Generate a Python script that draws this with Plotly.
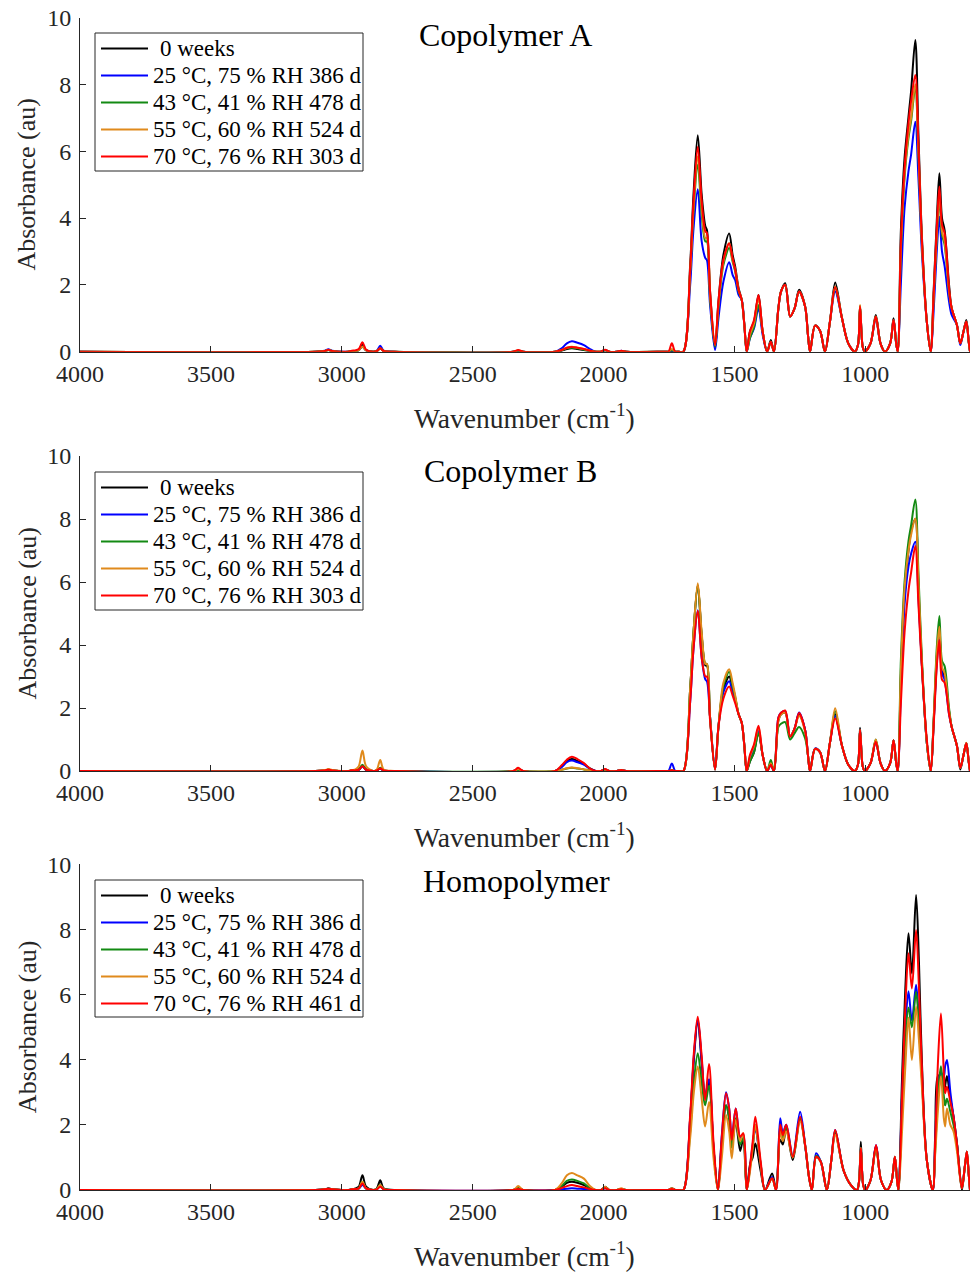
import plotly.graph_objects as go

# ---------------- wavenumber grids ----------------
WN_LOW = [4000, 3100, 3065, 3051, 3037, 2975, 2962, 2948, 2935, 2921, 2907, 2880, 2866, 2853, 2840, 2800,
          2345, 2326, 2307, 2185, 2160, 2140, 2121, 2100, 2075, 2052, 2030, 2010, 1994, 1978, 1950, 1932,
          1914, 1765, 1752, 1739, 1726, 1712]
WN_FP_COP = [1695, 1669, 1657, 1640, 1625, 1611, 1605, 1593, 1574, 1561, 1542, 1520, 1507, 1497, 1484, 1472,
             1462, 1453, 1441, 1425, 1408, 1392, 1375, 1361, 1349, 1332, 1322, 1306, 1287, 1270, 1253, 1230,
             1219, 1211, 1192, 1173, 1154, 1135, 1115, 1089, 1065, 1040, 1028, 1020, 1010, 1002, 980, 960,
             942, 925, 905, 892, 882, 876, 864, 850, 835, 825, 809, 797, 784, 765, 750, 739, 727, 717, 707,
             697, 680, 670, 650, 637, 625, 614, 605, 600]
WN_FP_HOM = [1695, 1669, 1655, 1640, 1625, 1612, 1597, 1580, 1563, 1548, 1532, 1520, 1510, 1495, 1478, 1466,
             1453, 1440, 1430, 1420, 1400, 1383, 1356, 1341, 1325, 1315, 1302, 1277, 1249, 1229, 1215, 1204,
             1188, 1170, 1147, 1130, 1115, 1083, 1055, 1032, 1024, 1017, 1008, 1000, 980, 959, 940, 918, 900,
             887, 878, 873, 860, 847, 835, 822, 806, 795, 784, 765, 742, 733, 722, 711, 700, 695, 688, 675,
             663, 650, 631, 620, 612, 605, 600]

# ---------------- Copolymer A ----------------
A_0W_LOW = [0, 0, 0.02, 0.05, 0.02, 0, 0.02, 0.02, 0.05, 0.22, 0.05, 0, 0.02, 0.1, 0.02, 0, 0, 0.03, 0, 0, 0.03, 0.08, 0.1, 0.08, 0.05, 0.02, 0, 0, 0.04, 0, 0, 0.02, 0, 0, 0, 0.02, 0, 0]
A_25_LOW = [0, 0, 0.03, 0.07, 0.03, 0, 0.02, 0.02, 0.05, 0.15, 0.04, 0, 0.03, 0.18, 0.03, 0, 0, 0.03, 0, 0, 0.1, 0.25, 0.31, 0.27, 0.2, 0.08, 0, 0, 0.05, 0, 0, 0.03, 0, 0, 0, 0.04, 0, 0]
A_43_LOW = [0, 0, 0.02, 0.05, 0.02, 0, 0.02, 0.02, 0.05, 0.15, 0.04, 0, 0.02, 0.1, 0.02, 0, 0, 0.03, 0, 0, 0.05, 0.1, 0.12, 0.1, 0.06, 0.03, 0, 0, 0.04, 0, 0, 0.02, 0, 0, 0, 0.05, 0, 0]
A_55_LOW = [0, 0, 0.02, 0.05, 0.02, 0, 0.02, 0.02, 0.05, 0.15, 0.04, 0, 0.02, 0.1, 0.02, 0, 0, 0.04, 0, 0, 0.05, 0.12, 0.15, 0.12, 0.08, 0.03, 0, 0, 0.05, 0, 0, 0.02, 0, 0, 0, 0.08, 0, 0]
A_70_LOW = [0, 0, 0.02, 0.06, 0.02, 0, 0.03, 0.04, 0.08, 0.28, 0.06, 0, 0.02, 0.1, 0.02, 0, 0, 0.05, 0, 0, 0.05, 0.12, 0.14, 0.12, 0.08, 0.03, 0, 0, 0.06, 0, 0, 0.03, 0, 0, 0, 0.25, 0, 0]

A_0W_FP = [0, 2.6, 4.6, 6.48, 4.7, 3.75, 3.64, 1.8, 0.1, 1.5, 2.9, 3.54, 2.9, 2.54, 1.9, 1.55, 0.8, 0, 0.6, 0.9, 1.7, 0.6, 0, 0.35, 0, 1.3, 1.8, 2.05, 1.05, 1.3, 1.85, 1.35, 0.5, 0, 0.78, 0.63, 0, 0.9, 2.07, 1.0, 0.25, 0, 0.2, 1.37, 0.15, 0, 0.25, 1.1, 0.25, 0, 0.25, 1.0, 0.25, 0, 3.64, 5.8, 7.03, 7.8, 9.33, 6.5, 3.5, 0.9, 0, 1.8, 3.9, 5.34, 4.0, 3.64, 2.0, 1.3, 0.8, 0.25, 0.6, 0.95, 0.3, 0]
A_25_FP = [0, 2.0, 3.6, 4.86, 3.3, 2.8, 2.74, 1.4, 0.05, 1.0, 2.1, 2.68, 2.3, 2.14, 1.7, 1.55, 0.8, 0, 0.4, 0.7, 1.3, 0.5, 0, 0.3, 0, 1.3, 1.8, 2.0, 1.05, 1.3, 1.8, 1.35, 0.5, 0, 0.78, 0.63, 0, 0.9, 1.8, 1.0, 0.25, 0, 0.2, 1.3, 0.15, 0, 0.25, 1.0, 0.25, 0, 0.25, 0.95, 0.25, 0, 2.05, 4.3, 5.4, 5.9, 6.88, 5.2, 3.0, 0.9, 0, 1.2, 3.0, 4.04, 3.0, 2.56, 1.5, 1.1, 0.8, 0.2, 0.6, 0.9, 0.3, 0]
A_43_FP = [0, 2.4, 4.1, 5.6, 4.1, 3.3, 3.3, 1.6, 0.15, 1.3, 2.6, 3.1, 2.7, 2.4, 1.8, 1.55, 0.8, 0, 0.4, 0.75, 1.4, 0.6, 0, 0.3, 0, 1.3, 1.8, 2.0, 1.05, 1.3, 1.8, 1.35, 0.5, 0, 0.78, 0.63, 0, 0.9, 1.9, 1.0, 0.25, 0, 0.2, 1.35, 0.15, 0, 0.25, 1.05, 0.25, 0, 0.25, 0.95, 0.25, 0, 3.0, 5.2, 6.4, 6.9, 7.9, 5.9, 3.3, 0.9, 0, 1.6, 3.4, 4.6, 3.5, 3.2, 1.8, 1.3, 0.8, 0.25, 0.6, 0.9, 0.3, 0]
A_55_FP = [0, 2.4, 4.2, 5.85, 4.3, 3.4, 3.4, 1.7, 0.2, 1.4, 2.7, 3.25, 2.75, 2.45, 1.85, 1.55, 0.8, 0, 0.5, 0.85, 1.6, 0.6, 0, 0.3, 0, 1.3, 1.8, 2.0, 1.05, 1.3, 1.8, 1.35, 0.5, 0, 0.78, 0.63, 0, 0.9, 1.95, 1.0, 0.25, 0, 0.2, 1.4, 0.15, 0, 0.25, 1.05, 0.25, 0, 0.25, 0.95, 0.25, 0, 3.1, 5.3, 6.5, 7.0, 8.0, 6.0, 3.3, 0.9, 0, 1.6, 3.5, 4.7, 3.6, 3.3, 1.8, 1.3, 0.8, 0.25, 0.6, 0.9, 0.3, 0]
A_70_FP = [0, 2.5, 4.4, 6.13, 4.5, 3.6, 3.55, 1.8, 0.2, 1.5, 2.75, 3.24, 2.8, 2.44, 1.85, 1.55, 0.8, 0, 0.6, 0.95, 1.7, 0.6, 0, 0.3, 0, 1.3, 1.8, 2.0, 1.05, 1.3, 1.8, 1.35, 0.5, 0, 0.78, 0.63, 0, 0.9, 1.93, 1.0, 0.25, 0, 0.2, 1.35, 0.15, 0, 0.25, 1.05, 0.25, 0, 0.25, 0.95, 0.25, 0, 3.3, 5.5, 6.85, 7.5, 8.28, 6.2, 3.4, 0.9, 0, 1.7, 3.7, 4.94, 3.8, 3.55, 1.9, 1.3, 0.8, 0.25, 0.6, 0.9, 0.3, 0]

# ---------------- Copolymer B ----------------
B_0W_LOW = [0, 0, 0.02, 0.04, 0.02, 0, 0.02, 0.02, 0.04, 0.15, 0.04, 0, 0.02, 0.08, 0.02, 0, 0, 0.05, 0, 0, 0.15, 0.32, 0.38, 0.32, 0.22, 0.08, 0, 0, 0.05, 0, 0, 0.03, 0, 0, 0, 0.02, 0, 0]
B_25_LOW = [0, 0, 0.02, 0.04, 0.02, 0, 0.02, 0.02, 0.04, 0.15, 0.04, 0, 0.02, 0.08, 0.02, 0, 0, 0.06, 0, 0, 0.12, 0.28, 0.33, 0.28, 0.2, 0.07, 0, 0, 0.05, 0, 0, 0.03, 0, 0, 0, 0.24, 0, 0]
B_43_LOW = [0, 0, 0.02, 0.04, 0.02, 0, 0.02, 0.02, 0.05, 0.2, 0.05, 0, 0.02, 0.1, 0.02, 0, 0, 0.04, 0, 0, 0.04, 0.08, 0.1, 0.08, 0.05, 0.02, 0, 0, 0.04, 0, 0, 0.02, 0, 0, 0, 0.02, 0, 0]
B_55_LOW = [0, 0, 0.03, 0.06, 0.03, 0, 0.03, 0.05, 0.15, 0.65, 0.15, 0, 0.05, 0.35, 0.05, 0, 0, 0.06, 0, 0, 0.04, 0.09, 0.11, 0.09, 0.05, 0.02, 0, 0, 0.05, 0, 0, 0.03, 0, 0, 0, 0.02, 0, 0]
B_70_LOW = [0, 0, 0.02, 0.04, 0.02, 0, 0.02, 0.02, 0.04, 0.15, 0.04, 0, 0.02, 0.08, 0.02, 0, 0, 0.1, 0, 0, 0.18, 0.36, 0.45, 0.38, 0.25, 0.08, 0, 0, 0.06, 0, 0, 0.03, 0, 0, 0, 0.02, 0, 0]

B_0W_FP = [0, 2.6, 4.3, 5.9, 4.3, 3.35, 3.35, 1.7, 0.05, 1.4, 2.6, 3.0, 2.6, 2.3, 1.8, 1.53, 0.8, 0, 0.3, 0.6, 1.25, 0.5, 0, 0.2, 0, 1.6, 1.8, 1.85, 1.1, 1.35, 1.8, 1.3, 0.5, 0, 0.7, 0.6, 0, 0.9, 1.8, 0.8, 0.2, 0, 0.2, 1.37, 0.15, 0, 0.25, 0.95, 0.25, 0, 0.25, 0.98, 0.25, 0, 3.0, 5.6, 7.0, 7.6, 8.0, 5.8, 3.4, 0.9, 0, 1.5, 3.6, 4.4, 3.2, 3.0, 1.9, 1.4, 0.8, 0.05, 0.5, 0.88, 0.3, 0]
B_25_FP = [0, 2.2, 3.8, 5.1, 3.6, 2.9, 2.85, 1.7, 0.05, 1.4, 2.5, 2.85, 2.5, 2.25, 1.8, 1.53, 0.8, 0, 0.4, 0.7, 1.3, 0.5, 0, 0.2, 0, 1.7, 1.85, 1.9, 1.1, 1.35, 1.86, 1.3, 0.5, 0, 0.72, 0.6, 0, 0.9, 1.75, 0.8, 0.2, 0, 0.2, 1.3, 0.15, 0, 0.25, 0.95, 0.25, 0, 0.25, 0.98, 0.25, 0, 2.6, 5.3, 6.5, 6.9, 7.28, 5.5, 3.4, 0.9, 0, 1.5, 3.4, 4.3, 3.1, 2.9, 1.8, 1.4, 0.8, 0.1, 0.5, 0.88, 0.3, 0]
B_43_FP = [0, 2.6, 4.3, 5.9, 4.3, 3.4, 3.4, 1.7, 0.05, 1.4, 2.7, 3.15, 2.7, 2.35, 1.8, 1.53, 0.8, 0, 0.3, 0.6, 1.2, 0.5, 0, 0.35, 0, 1.4, 1.5, 1.55, 1.0, 1.2, 1.4, 1.04, 0.5, 0, 0.7, 0.6, 0, 0.9, 1.9, 0.8, 0.2, 0, 0.2, 1.3, 0.15, 0, 0.25, 1.0, 0.25, 0, 0.25, 0.98, 0.25, 0, 3.54, 6.0, 7.3, 7.8, 8.62, 6.3, 3.6, 0.9, 0, 1.6, 3.9, 4.92, 3.5, 3.33, 2.0, 1.4, 0.8, 0.1, 0.5, 0.88, 0.3, 0]
B_55_FP = [0, 2.6, 4.3, 5.96, 4.4, 3.4, 3.4, 1.7, 0.05, 1.4, 2.8, 3.23, 2.8, 2.4, 1.8, 1.53, 0.8, 0, 0.45, 0.8, 1.4, 0.5, 0, 0.25, 0, 1.6, 1.8, 1.85, 1.1, 1.35, 1.75, 1.25, 0.5, 0, 0.7, 0.6, 0, 0.9, 1.99, 0.8, 0.2, 0, 0.2, 1.3, 0.15, 0, 0.25, 1.0, 0.25, 0, 0.25, 0.98, 0.25, 0, 3.2, 5.8, 7.0, 7.5, 8.02, 6.0, 3.5, 0.9, 0, 1.6, 3.7, 4.58, 3.3, 3.1, 1.9, 1.4, 0.8, 0.1, 0.5, 0.9, 0.3, 0]
B_70_FP = [0, 2.2, 3.8, 5.09, 3.6, 3.0, 3.0, 1.6, 0.05, 1.4, 2.3, 2.68, 2.4, 2.15, 1.8, 1.53, 0.8, 0, 0.5, 0.85, 1.44, 0.5, 0, 0.2, 0, 1.7, 1.85, 1.92, 1.09, 1.35, 1.84, 1.3, 0.5, 0, 0.7, 0.6, 0, 0.9, 1.67, 0.8, 0.2, 0, 0.2, 1.3, 0.15, 0, 0.25, 0.93, 0.25, 0, 0.25, 0.98, 0.25, 0, 2.15, 4.4, 5.73, 6.3, 7.14, 5.3, 3.3, 1.0, 0, 1.4, 3.3, 4.16, 2.9, 2.8, 1.8, 1.4, 0.8, 0.1, 0.5, 0.88, 0.3, 0]

# ---------------- Homopolymer ----------------
H_0W_LOW = [0, 0, 0.02, 0.05, 0.02, 0, 0.02, 0.05, 0.1, 0.45, 0.1, 0, 0.05, 0.3, 0.05, 0, 0, 0.05, 0, 0, 0.1, 0.22, 0.25, 0.22, 0.15, 0.05, 0, 0, 0.1, 0, 0, 0.03, 0, 0, 0, 0.05, 0, 0]
H_25_LOW = [0, 0, 0.02, 0.04, 0.02, 0, 0.02, 0.02, 0.04, 0.15, 0.04, 0, 0.02, 0.12, 0.02, 0, 0, 0.03, 0, 0, 0.02, 0.04, 0.05, 0.04, 0.03, 0.02, 0, 0, 0.05, 0, 0, 0.02, 0, 0, 0, 0.03, 0, 0]
H_43_LOW = [0, 0, 0.02, 0.04, 0.02, 0, 0.02, 0.03, 0.05, 0.25, 0.05, 0, 0.03, 0.15, 0.03, 0, 0, 0.05, 0, 0, 0.12, 0.28, 0.32, 0.28, 0.2, 0.06, 0, 0, 0.08, 0, 0, 0.03, 0, 0, 0, 0.04, 0, 0]
H_55_LOW = [0, 0, 0.02, 0.04, 0.02, 0, 0.02, 0.03, 0.05, 0.25, 0.05, 0, 0.03, 0.15, 0.03, 0, 0, 0.12, 0, 0, 0.2, 0.45, 0.52, 0.45, 0.35, 0.12, 0, 0, 0.1, 0, 0, 0.05, 0, 0, 0, 0.05, 0, 0]
H_70_LOW = [0, 0, 0.02, 0.04, 0.02, 0, 0.02, 0.03, 0.05, 0.2, 0.05, 0, 0.02, 0.1, 0.02, 0, 0, 0.03, 0, 0, 0.06, 0.12, 0.15, 0.12, 0.08, 0.03, 0, 0, 0.05, 0, 0, 0.02, 0, 0, 0, 0.03, 0, 0]

H_0W_FP = [0, 2.2, 4.0, 5.22, 3.9, 2.9, 3.3, 1.3, 0, 1.5, 2.6, 2.2, 1.4, 2.1, 1.2, 1.6, 0, 0.8, 1.0, 1.43, 0.6, 0, 0.51, 0, 1.54, 1.4, 1.9, 0.92, 2.2, 1.3, 0.4, 0, 1.0, 0.87, 0, 0.9, 1.75, 0.6, 0.15, 0, 0.25, 1.48, 0.15, 0, 0.3, 1.35, 0.3, 0, 0.25, 1.0, 0.25, 0, 3.33, 6.2, 7.88, 6.65, 9.06, 7.0, 3.99, 0.92, 0, 1.69, 3.5, 3.5, 3.0, 3.2, 3.5, 2.8, 2.25, 1.43, 0.0, 0.7, 1.1, 0.5, 0]
H_25_FP = [0, 2.2, 4.1, 5.25, 4.0, 2.9, 3.4, 1.3, 0, 1.7, 3.0, 2.5, 1.6, 2.5, 1.6, 1.7, 0, 0.75, 1.4, 1.9, 0.8, 0, 0.4, 0, 2.2, 1.75, 2.0, 1.05, 2.4, 1.33, 0.4, 0, 1.13, 0.87, 0, 0.9, 1.84, 0.6, 0.15, 0, 0.25, 1.3, 0.15, 0, 0.3, 1.38, 0.3, 0, 0.25, 1.02, 0.25, 0, 2.8, 5.0, 6.1, 5.2, 6.3, 5.2, 3.5, 0.92, 0, 1.4, 3.3, 3.6, 3.5, 3.8, 3.99, 3.0, 2.25, 1.43, 0.1, 0.7, 1.18, 0.5, 0]
H_43_FP = [0, 1.8, 3.3, 4.2, 3.3, 2.6, 3.2, 1.3, 0, 1.4, 2.6, 2.2, 1.3, 2.2, 1.4, 1.6, 0, 0.7, 1.3, 2.0, 0.8, 0, 0.35, 0, 1.9, 1.6, 1.9, 1.0, 2.2, 1.33, 0.4, 0, 1.05, 0.87, 0, 0.9, 1.8, 0.6, 0.15, 0, 0.25, 1.3, 0.15, 0, 0.3, 1.3, 0.3, 0, 0.25, 1.02, 0.25, 0, 2.5, 4.6, 5.6, 5.0, 6.09, 5.0, 3.5, 0.92, 0, 1.2, 3.0, 3.8, 2.9, 2.6, 2.8, 2.4, 2.0, 1.43, 0.05, 0.7, 1.18, 0.5, 0]
H_55_FP = [0, 1.6, 3.0, 3.79, 2.8, 1.95, 2.7, 1.0, 0, 1.0, 2.3, 1.8, 0.97, 2.15, 1.5, 1.74, 0, 0.6, 1.3, 2.0, 0.8, 0, 0.35, 0, 1.8, 1.5, 1.8, 1.0, 2.1, 1.33, 0.4, 0, 1.0, 0.85, 0, 0.9, 1.7, 0.6, 0.15, 0, 0.25, 1.3, 0.15, 0, 0.3, 1.3, 0.3, 0, 0.25, 1.02, 0.25, 0, 1.74, 3.8, 5.3, 3.99, 5.63, 4.6, 3.2, 0.92, 0, 1.1, 2.5, 3.5, 2.2, 1.95, 2.5, 2.0, 1.8, 1.2, 0.05, 0.7, 1.18, 0.5, 0]
H_70_FP = [0, 2.3, 4.2, 5.32, 4.1, 2.76, 3.87, 1.5, 0, 1.64, 2.97, 2.5, 1.54, 2.5, 1.64, 1.74, 0, 0.77, 1.5, 2.25, 0.9, 0, 0.36, 0, 2.0, 1.69, 2.0, 1.02, 2.25, 1.33, 0.4, 0, 1.02, 0.87, 0, 0.9, 1.84, 0.6, 0.15, 0, 0.25, 1.28, 0.15, 0, 0.3, 1.38, 0.3, 0, 0.25, 1.02, 0.25, 0, 2.76, 5.6, 7.27, 6.19, 7.98, 6.2, 3.8, 0.92, 0, 1.5, 4.0, 5.42, 3.6, 2.97, 3.17, 2.7, 2.25, 1.43, 0.05, 0.7, 1.18, 0.5, 0]

NAMES_COP = ["0 weeks", "25 \u00b0C, 75 % RH 386 d", "43 \u00b0C, 41 % RH 478 d",
             "55 \u00b0C, 60 % RH 524 d", "70 \u00b0C, 76 % RH 303 d"]
NAMES_HOM = ["0 weeks", "25 \u00b0C, 75 % RH 386 d", "43 \u00b0C, 41 % RH 478 d",
             "55 \u00b0C, 60 % RH 524 d", "70 \u00b0C, 76 % RH 461 d"]
COLORS = ["#000000", "#0000FF", "#138A13", "#E08A1C", "#FF0000"]
TITLES = ["Copolymer A", "Copolymer B", "Homopolymer"]
X_TICKS = [4000, 3500, 3000, 2500, 2000, 1500, 1000]
Y_TICKS = [0, 2, 4, 6, 8, 10]

panels = [
    (WN_LOW + WN_FP_COP, [A_0W_LOW + A_0W_FP, A_25_LOW + A_25_FP, A_43_LOW + A_43_FP,
                          A_55_LOW + A_55_FP, A_70_LOW + A_70_FP], NAMES_COP),
    (WN_LOW + WN_FP_COP, [B_0W_LOW + B_0W_FP, B_25_LOW + B_25_FP, B_43_LOW + B_43_FP,
                          B_55_LOW + B_55_FP, B_70_LOW + B_70_FP], NAMES_COP),
    (WN_LOW + WN_FP_HOM, [H_0W_LOW + H_0W_FP, H_25_LOW + H_25_FP, H_43_LOW + H_43_FP,
                          H_55_LOW + H_55_FP, H_70_LOW + H_70_FP], NAMES_HOM),
]

W, H = 976, 1273
L, R = 80, 6
PW = W - L - R
ROWS = [(17.5, 351.7), (456.0, 771.0), (864.3, 1190.0)]
TITLE_POS = [(505, 35), (510, 471), (516, 881)]
XLAB_Y = [416, 835, 1254]
LEG_BOX = [(95, 33, 363, 171), (95, 472, 363, 610), (95, 880, 363, 1017)]

FONT = "Liberation Serif"
AX_COL = "#262626"


def px(xp):
    return (xp - L) / PW


def py(yp):
    return 1 - yp / H


fig = go.Figure()
annotations = []
shapes = []
layout = dict(width=W, height=H, margin=dict(l=L, r=R, t=0, b=0, autoexpand=False),
              paper_bgcolor="white", plot_bgcolor="white", showlegend=False,
              font=dict(family=FONT, color=AX_COL))

for i, (wn, series, names) in enumerate(panels):
    sfx = "" if i == 0 else str(i + 1)
    for s, nm, col in zip(series, names, COLORS):
        fig.add_trace(go.Scatter(x=wn, y=s, mode="lines", name=nm,
                                 line=dict(color=col, width=2, shape="spline", smoothing=0.9),
                                 xaxis="x" + sfx, yaxis="y" + sfx))
    top, bot = ROWS[i]
    layout["xaxis" + sfx] = dict(domain=[0, 1], anchor="y" + sfx, range=[4000, 600],
                                 tickvals=X_TICKS, ticks="inside", ticklen=6, tickcolor=AX_COL,
                                 showline=True, linecolor=AX_COL, linewidth=1, showgrid=False,
                                 zeroline=False, tickfont=dict(family=FONT, size=24, color=AX_COL))
    layout["yaxis" + sfx] = dict(domain=[py(bot), py(top)], anchor="x" + sfx, range=[0, 10],
                                 tickvals=Y_TICKS, ticks="inside", ticklen=6, tickcolor=AX_COL,
                                 showline=True, linecolor=AX_COL, linewidth=1, showgrid=False,
                                 zeroline=False, ticklabelstandoff=3,
                                 tickfont=dict(family=FONT, size=24, color=AX_COL))
    # legend drawn as a boxed key
    bx0, by0, bx1, by1 = LEG_BOX[i]
    shapes.append(dict(type="rect", xref="paper", yref="paper", x0=px(bx0), x1=px(bx1),
                       y0=py(by0), y1=py(by1), line=dict(color=AX_COL, width=1), fillcolor="white",
                       layer="above"))
    for k, (nm, col) in enumerate(zip(names, COLORS)):
        yy = by0 + 15.5 + 27 * k
        shapes.append(dict(type="line", xref="paper", yref="paper", x0=px(101), x1=px(148),
                           y0=py(yy), y1=py(yy), line=dict(color=col, width=2), layer="above"))
        tx0 = 158 if k == 0 else 151
        annotations.append(dict(text=nm, x=px(tx0), y=py(yy), xref="paper", yref="paper",
                                showarrow=False, xanchor="left", yanchor="middle",
                                font=dict(family=FONT, size=23, color="#000000")))
    tx, ty = TITLE_POS[i]
    annotations.append(dict(text=TITLES[i], x=px(tx), y=py(ty), xref="paper",
                            yref="paper", showarrow=False, xanchor="center", yanchor="middle",
                            font=dict(family=FONT, size=32, color="#000000")))
    annotations.append(dict(text="Wavenumber (cm<sup>-1</sup>)", x=px(524),
                            y=py(XLAB_Y[i]), xref="paper", yref="paper", showarrow=False,
                            xanchor="center", yanchor="middle",
                            font=dict(family=FONT, size=27.5, color=AX_COL)))
    annotations.append(dict(text="Absorbance (au)", x=px(27),
                            y=py((top + bot) / 2), xref="paper", yref="paper",
                            showarrow=False, textangle=-90, xanchor="center", yanchor="middle",
                            font=dict(family=FONT, size=26, color=AX_COL)))

layout["annotations"] = annotations
layout["shapes"] = shapes
fig.update_layout(**layout)
fig.write_html("out.html")
